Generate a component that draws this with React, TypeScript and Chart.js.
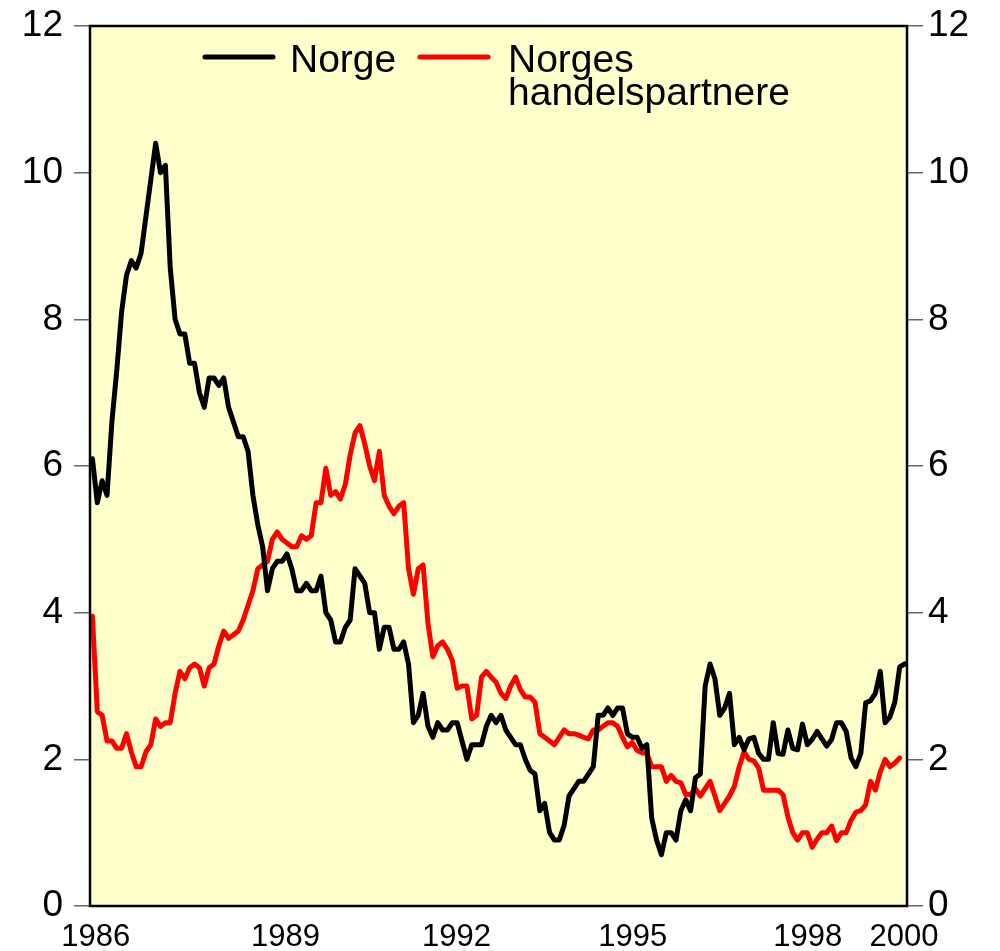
import React, { useEffect, useRef } from "react";
import { Chart, registerables } from "chart.js";

Chart.register(...registerables);

// ---- data ----
const startYear = 1986;

// Monthly values, Jan 1986 - Dec 1999
const norge: number[] = [
  6.1, 5.5, 5.8, 5.6, 6.6, 7.3, 8.1, 8.6, 8.8, 8.7,
  8.9, 9.4, 9.9, 10.4, 10.0, 10.1, 8.7, 8.0, 7.8, 7.8,
  7.4, 7.4, 7.0, 6.8, 7.2, 7.2, 7.1, 7.2, 6.8, 6.6,
  6.4, 6.4, 6.2, 5.6, 5.2, 4.9, 4.3, 4.6, 4.7, 4.7,
  4.8, 4.6, 4.3, 4.3, 4.4, 4.3, 4.3, 4.5, 4.0, 3.9,
  3.6, 3.6, 3.8, 3.9, 4.6, 4.5, 4.4, 4.0, 4.0, 3.5,
  3.8, 3.8, 3.5, 3.5, 3.6, 3.3, 2.5, 2.6, 2.9, 2.45,
  2.3, 2.5, 2.4, 2.4, 2.5, 2.5, 2.25, 2.0, 2.2, 2.2,
  2.2, 2.45, 2.6, 2.5, 2.6, 2.4, 2.3, 2.2, 2.2, 2.0,
  1.85, 1.8, 1.3, 1.4, 1.0, 0.9, 0.9, 1.1, 1.5, 1.6,
  1.7, 1.7, 1.8, 1.9, 2.6, 2.6, 2.7, 2.6, 2.7, 2.7,
  2.35, 2.3, 2.3, 2.15, 2.2, 1.2, 0.9, 0.7, 1.0, 1.0,
  0.9, 1.3, 1.45, 1.3, 1.75, 1.8, 3.0, 3.3, 3.1, 2.6,
  2.7, 2.9, 2.2, 2.3, 2.13, 2.28, 2.3, 2.08, 2.0, 2.0,
  2.5, 2.08, 2.07, 2.4, 2.15, 2.13, 2.48, 2.2, 2.27, 2.38,
  2.28, 2.18, 2.27, 2.5, 2.5, 2.38, 2.02, 1.9, 2.08, 2.77,
  2.8, 2.9, 3.2, 2.5, 2.58, 2.78, 3.26, 3.3,
];

// Monthly values, Jan 1986 - Nov 1999
const handelspartnere: number[] = [
  3.95, 2.65, 2.6, 2.25, 2.25, 2.15, 2.15, 2.35, 2.1, 1.9,
  1.9, 2.1, 2.2, 2.55, 2.45, 2.5, 2.5, 2.9, 3.2, 3.1,
  3.25, 3.3, 3.25, 3.0, 3.25, 3.3, 3.55, 3.75, 3.65, 3.7,
  3.75, 3.9, 4.1, 4.3, 4.6, 4.65, 4.7, 5.0, 5.1, 5.0,
  4.95, 4.9, 4.9, 5.05, 5.0, 5.05, 5.5, 5.5, 5.97, 5.6,
  5.65, 5.55, 5.75, 6.15, 6.45, 6.55, 6.3, 6.0, 5.8, 6.2,
  5.6, 5.45, 5.35, 5.45, 5.5, 4.6, 4.25, 4.6, 4.65, 3.85,
  3.4, 3.55, 3.6, 3.5, 3.35, 2.97, 3.0, 3.0, 2.55, 2.6,
  3.12, 3.2, 3.12, 3.05, 2.9, 2.83, 3.0, 3.12, 2.95, 2.85,
  2.85, 2.78, 2.35, 2.3, 2.25, 2.2, 2.3, 2.4, 2.35, 2.35,
  2.33, 2.3, 2.28, 2.4, 2.4, 2.45, 2.5, 2.5, 2.45, 2.3,
  2.17, 2.23, 2.12, 2.09, 2.08, 1.9, 1.9, 1.9, 1.7, 1.78,
  1.7, 1.68, 1.52, 1.52, 1.6, 1.5, 1.6, 1.7, 1.5, 1.3,
  1.4, 1.5, 1.63, 1.9, 2.1, 2.0, 1.98, 1.88, 1.58, 1.58,
  1.58, 1.58, 1.52, 1.22, 1.0, 0.9, 1.0, 1.0, 0.8, 0.91,
  1.0, 1.0, 1.09, 0.89, 1.0, 1.0, 1.17, 1.28, 1.3, 1.38,
  1.7, 1.58, 1.83, 2.0, 1.9, 1.95, 2.02,
];

const seriesLabels = ["Norge", "Norges\nhandelspartnere"];
const seriesColors = ["#000000", "#ff0000"];

const yMin = 0;
const yMax = 12;
const yStep = 2;

const xMin = 1986;
const xMax = 2000;
const xTickLabels = ["1986", "1989", "1992", "1995", "1998", "2000"];
const xTickValues = [1986.1, 1989.35, 1992.28, 1995.3, 1998.3, 1999.95];

const toPoints = (vals: number[]) =>
  vals.map((v, i) => ({ x: startYear + (i + 0.5) / 12, y: v }));

const FONT = "'Liberation Sans', Arial, sans-serif";

const bgPlugin = {
  id: "plotBg",
  beforeDraw(chart: any) {
    const { ctx, chartArea } = chart;
    ctx.save();
    ctx.fillStyle = "#ffffcc";
    ctx.fillRect(chartArea.left, chartArea.top, chartArea.right - chartArea.left, chartArea.bottom - chartArea.top);
    ctx.restore();
  },
  afterDatasetsDraw(chart: any) {
    const { ctx, chartArea } = chart;
    ctx.save();
    ctx.strokeStyle = "#000";
    ctx.lineWidth = 2.5;
    ctx.strokeRect(chartArea.left, chartArea.top, chartArea.right - chartArea.left, chartArea.bottom - chartArea.top);
    ctx.restore();
  },
};

const legendPlugin = {
  id: "customLegend",
  afterDraw(chart: any) {
    const { ctx, chartArea } = chart;
    const items = [
      { lineX: 115, textX: 200 },
      { lineX: 330, textX: 418 },
    ];
    ctx.save();
    ctx.font = `39px ${FONT}`;
    ctx.textBaseline = "middle";
    ctx.textAlign = "left";
    chart.data.datasets.forEach((ds: any, i: number) => {
      const it = items[i];
      const y = chartArea.top + 31;
      ctx.strokeStyle = ds.borderColor;
      ctx.lineWidth = 5;
      ctx.lineCap = "round";
      ctx.beginPath();
      ctx.moveTo(chartArea.left + it.lineX, y);
      ctx.lineTo(chartArea.left + it.lineX + 68, y);
      ctx.stroke();
      ctx.fillStyle = "#000";
      const lines = String(ds.label).split("\n");
      lines.forEach((ln, k) => {
        ctx.fillText(ln, chartArea.left + it.textX, y + 4 + k * 33);
      });
    });
    ctx.restore();
  },
};

export default function App() {
  const ref = useRef<HTMLCanvasElement | null>(null);

  useEffect(() => {
    if (!ref.current) return;
    const yAxisCommon = {
      type: "linear" as const,
      min: yMin,
      max: yMax,
      ticks: {
        stepSize: yStep,
        color: "#000",
        font: { size: 37, family: FONT },
      },
      grid: {
        display: true,
        drawOnChartArea: false,
        drawTicks: true,
        tickLength: 16,
        color: "#666",
        lineWidth: 1.5,
      },
      border: { display: false },
    };
    const fitY = (w: number) => (scale: any) => {
      scale.width = w;
      scale.paddingTop = 0;
      scale.paddingBottom = 0;
    };
    const chart = new Chart(ref.current, {
      type: "line",
      data: {
        datasets: [
          {
            label: seriesLabels[0],
            data: toPoints(norge),
            borderColor: seriesColors[0],
            borderWidth: 5,
            pointRadius: 0,
            tension: 0,
            borderJoinStyle: "round",
            borderCapStyle: "round",
            yAxisID: "y",
          },
          {
            label: seriesLabels[1],
            data: toPoints(handelspartnere),
            borderColor: seriesColors[1],
            borderWidth: 5,
            pointRadius: 0,
            tension: 0,
            borderJoinStyle: "round",
            borderCapStyle: "round",
            yAxisID: "y",
          },
        ],
      },
      options: {
        responsive: false,
        animation: false,
        devicePixelRatio: 1,
        layout: { padding: { top: 26, left: 0, right: 0, bottom: 0 } },
        plugins: {
          legend: { display: false },
          tooltip: { enabled: false },
        },
        scales: {
          x: {
            type: "linear",
            min: xMin,
            max: xMax,
            afterBuildTicks: (scale: any) => {
              scale.ticks = xTickValues.map((v) => ({ value: v }));
            },
            afterFit: (scale: any) => {
              scale.height = 45;
              scale.paddingLeft = 0;
              scale.paddingRight = 0;
            },
            ticks: {
              autoSkip: false,
              maxRotation: 0,
              minRotation: 0,
              padding: 13,
              color: "#000",
              font: { size: 31, family: FONT },
              callback: (_v: any, i: number) => xTickLabels[i],
            },
            grid: { display: false, drawTicks: false },
            border: { display: false },
          },
          y: {
            ...yAxisCommon,
            position: "left",
            afterFit: fitY(90),
            ticks: { ...yAxisCommon.ticks, padding: 11 },
          },
          y2: {
            ...yAxisCommon,
            position: "right",
            afterFit: fitY(93),
            ticks: { ...yAxisCommon.ticks, padding: 5 },
          },
        },
      } as any,
      plugins: [bgPlugin, legendPlugin],
    });
    return () => chart.destroy();
  }, []);

  return (
    <div style={{ position: "absolute", left: 0, top: 0, width: 1000, height: 951 }}>
      <canvas ref={ref} width={1000} height={951} style={{ display: "block", width: 1000, height: 951 }} />
    </div>
  );
}
